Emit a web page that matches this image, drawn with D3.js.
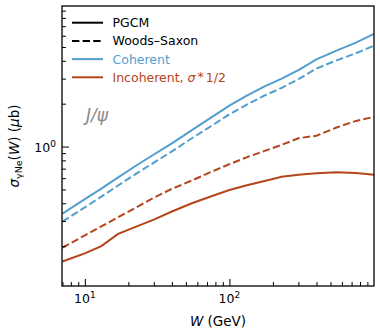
<!DOCTYPE html>
<html>
<head>
<meta charset="utf-8">
<script src="https://cdn.jsdelivr.net/npm/d3@7"></script>
<style>
  body { margin: 0; background: #fff; }
  svg { font-family: "DejaVu Sans", sans-serif; }
</style>
</head>
<body>
<div id="canvas"></div>
<script>
// W grid (GeV)
const energies = [7, 10, 13, 17, 22, 30, 40, 55, 75, 100, 130, 175, 230, 300, 400, 550, 750, 1000];
// cross sections (μb)
const coherentPGCM = [0.338, 0.427, 0.507, 0.608, 0.722, 0.880, 1.054, 1.305, 1.603, 1.937, 2.26, 2.65, 3.0, 3.44, 4.09, 4.71, 5.37, 6.18];
const coherentWS = [0.298, 0.374, 0.445, 0.533, 0.633, 0.771, 0.924, 1.144, 1.394, 1.684, 1.953, 2.284, 2.583, 2.971, 3.53, 4.03, 4.52, 5.11];
const incoherentPGCM = [0.156, 0.178, 0.200, 0.244, 0.271, 0.307, 0.350, 0.400, 0.448, 0.495, 0.533, 0.574, 0.613, 0.633, 0.649, 0.660, 0.652, 0.635];
const incoherentWS = [0.195, 0.238, 0.275, 0.319, 0.368, 0.437, 0.505, 0.578, 0.665, 0.752, 0.837, 0.932, 1.028, 1.144, 1.192, 1.36, 1.514, 1.617];

const xTicks = [10, 100];
const yTicks = [1];

const width = 380;
const height = 336;
const margin = { top: 6, left: 62, bottom: 50, right: 6 };
const iwidth = width - margin.left - margin.right;
const iheight = height - margin.top - margin.bottom;

const blue = "#539ecd";
const orange = "#b5451b";

const svg = d3.select("#canvas").append("svg")
  .attr("width", width).attr("height", height);

const g = svg.append("g").attr("transform", `translate(${margin.left},${margin.top})`);

const x = d3.scaleLog().domain([6.95, 1000]).range([0, iwidth]);
const y = d3.scaleLog().domain([0.105, 9.7]).range([iheight, 0]);

const line = d3.line()
  .x((d, i) => x(energies[i]))
  .y(d => y(d));

const series = [
  { values: coherentPGCM, color: blue, dash: null },
  { values: coherentWS, color: blue, dash: "7.4,3.2" },
  { values: incoherentPGCM, color: orange, dash: null },
  { values: incoherentWS, color: orange, dash: "7.4,3.2" }
];

g.append("defs").append("clipPath").attr("id", "clip")
  .append("rect").attr("width", iwidth).attr("height", iheight);

g.append("g").attr("clip-path", "url(#clip)")
  .selectAll("path").data(series).enter()
  .append("path")
  .attr("d", d => line(d.values))
  .attr("fill", "none")
  .attr("stroke", d => d.color)
  .attr("stroke-width", 2)
  .attr("stroke-dasharray", d => d.dash);

// minor tick values
const minorX = [];
[1, 10, 100].forEach(b => d3.range(2, 10).forEach(k => {
  const v = b * k;
  if (v > 6.95 && v < 1000) minorX.push(v);
}));
const minorY = [];
[0.1, 1].forEach(b => d3.range(2, 10).forEach(k => {
  const v = b * k;
  if (v > 0.105 && v < 9.7) minorY.push(v);
}));

function styleAxis(sel) {
  sel.select(".domain").remove();
  sel.selectAll("line").attr("stroke", "#000").attr("stroke-width", 1);
}

g.append("g").attr("transform", `translate(0,${iheight})`)
  .call(d3.axisBottom(x).tickValues(xTicks).tickSize(-7).tickFormat(""))
  .call(styleAxis);
g.append("g").attr("transform", `translate(0,${iheight})`)
  .call(d3.axisBottom(x).tickValues(minorX).tickSize(-4).tickFormat(""))
  .call(styleAxis);
g.append("g")
  .call(d3.axisLeft(y).tickValues(yTicks).tickSize(-7).tickFormat(""))
  .call(styleAxis);
g.append("g")
  .call(d3.axisLeft(y).tickValues(minorY).tickSize(-4).tickFormat(""))
  .call(styleAxis);

// frame
g.append("rect").attr("width", iwidth).attr("height", iheight)
  .attr("fill", "none").attr("stroke", "#000").attr("stroke-width", 1.3);

// tick labels
xTicks.forEach(v => {
  const t = g.append("text").attr("x", x(v)).attr("y", iheight + 17)
    .attr("text-anchor", "middle").attr("font-size", 12.5);
  t.append("tspan").text("10");
  t.append("tspan").attr("dy", -5).attr("font-size", 9).text(Math.round(Math.log10(v)));
});
yTicks.forEach(v => {
  const t = g.append("text").attr("x", -6).attr("y", y(v) + 5)
    .attr("text-anchor", "end").attr("font-size", 12.5);
  t.append("tspan").text("10");
  t.append("tspan").attr("dy", -5).attr("font-size", 9).text(Math.round(Math.log10(v)));
});

// axis labels
const xl = g.append("text").attr("x", iwidth / 2).attr("y", iheight + 40)
  .attr("text-anchor", "middle").attr("font-size", 13.5);
xl.append("tspan").attr("font-style", "italic").text("W");
xl.append("tspan").text(" (GeV)");

const yl = svg.append("text")
  .attr("transform", `translate(19,${margin.top + iheight / 2}) rotate(-90)`)
  .attr("text-anchor", "middle").attr("font-size", 13.5);
yl.append("tspan").attr("font-style", "italic").text("σ");
yl.append("tspan").attr("font-size", 9.5).attr("dy", 3).text("γNe");
yl.append("tspan").attr("dy", -3).text("(");
yl.append("tspan").attr("font-style", "italic").text("W");
yl.append("tspan").text(") (");
yl.append("tspan").attr("font-style", "italic").text("μ");
yl.append("tspan").text("b)");

// legend
const legend = [
  { label: "PGCM", color: "#000", text: "#000", dash: null },
  { label: "Woods–Saxon", color: "#000", text: "#000", dash: "7.4,3.2" },
  { label: "Coherent", color: blue, text: blue, dash: null },
  { label: "Incoherent, ", color: orange, text: orange, dash: null, sigma: true }
];
const lg = svg.append("g");
legend.forEach((d, i) => {
  const ly = 22.7 + i * 18.2;
  lg.append("line").attr("x1", 72).attr("x2", 103).attr("y1", ly).attr("y2", ly)
    .attr("stroke", d.color).attr("stroke-width", 2)
    .attr("stroke-dasharray", d.dash);
  const t = lg.append("text").attr("x", 112.5).attr("y", ly + 4.5)
    .attr("font-size", 12.5).attr("fill", d.text);
  t.append("tspan").text(d.label);
  if (d.sigma) {
    t.append("tspan").attr("font-style", "italic").text("σ");
    t.append("tspan").attr("dx", 2).attr("dy", -1).text("*");
    t.append("tspan").attr("dx", 2).attr("dy", 1).text("1/2");
  }
});

// annotation
svg.append("text").attr("x", 86).attr("y", 121)
  .attr("font-size", 17).attr("font-style", "italic").attr("fill", "#8a8a8a")
  .text("J/ψ");
</script>
</body>
</html>
